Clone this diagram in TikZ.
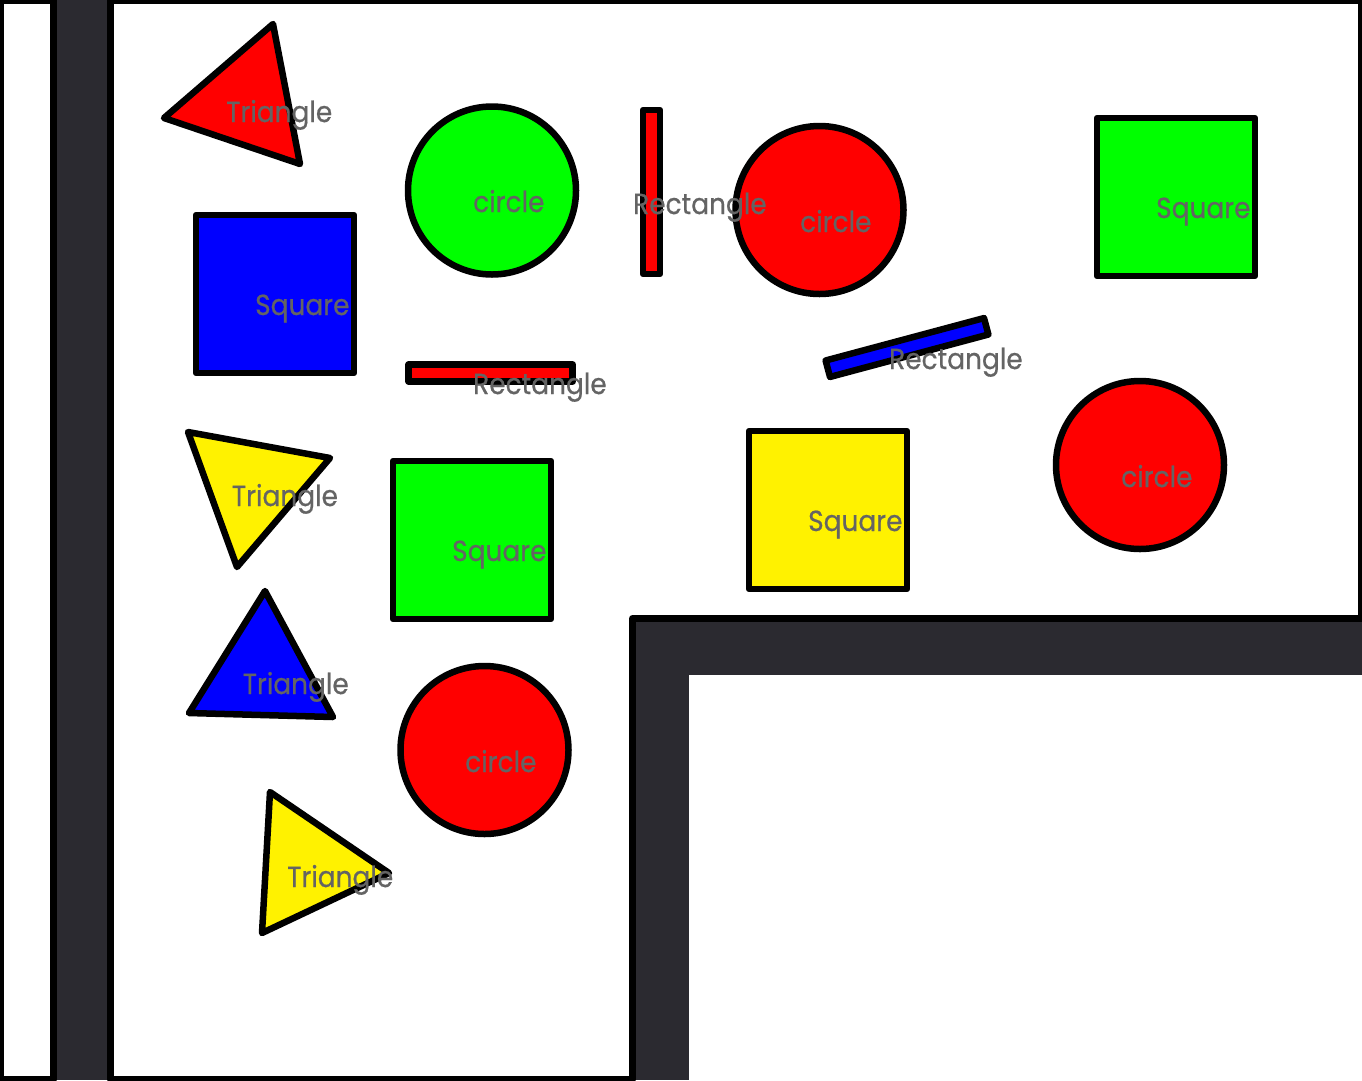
\documentclass[tikz,border=0pt]{standalone}
\usepackage{fontspec}
\newfontfamily\labfont[FakeStretch=0.91,FakeBold=0.6]{Poppins}
\definecolor{wallgray}{RGB}{43,42,48}
\definecolor{labgray}{RGB}{100,100,100}
\definecolor{shred}{RGB}{255,0,0}
\definecolor{shgreen}{RGB}{0,255,0}
\definecolor{shblue}{RGB}{0,0,255}
\definecolor{shyellow}{RGB}{255,242,0}
\begin{document}
\begin{tikzpicture}[x=1pt,y=-1pt,
  shp/.style={draw=black,line width=6.5pt,line join=round},
  sq/.style={shp,rectangle,inner sep=0pt,minimum width=158pt,minimum height=158pt},
  circ/.style={shp,circle,inner sep=0pt,minimum size=168pt},
  bar/.style={shp,rectangle,inner sep=0pt,minimum width=164pt,minimum height=17pt},
  lab/.style={anchor=base west,inner sep=0pt,text=labgray,font=\labfont\fontsize{29}{29}\selectfont},
  wall/.style={draw=black,line width=7pt,line join=round,fill=white}]
\useasboundingbox (0,0) rectangle (1362,1080);
% floor / walls
\fill[wallgray] (0,0) rectangle (1362,1080);
\fill[white] (689,675) rectangle (1362,1080);
\draw[wall] (0.5,0.5) rectangle (53.5,1079.5);
\draw[wall] (110.5,0.5) -- (1361.5,0.5) -- (1361.5,618.5) -- (632.5,618.5) -- (632.5,1079.5) -- (110.5,1079.5) -- cycle;
% triangles
\draw[shp,fill=shred] (164,118) -- (273,24) -- (300,164) -- cycle;
\draw[shp,fill=shyellow] (188,432) -- (330,458) -- (237,567) -- cycle;
\draw[shp,fill=shblue] (265,591) -- (333,717) -- (189,713) -- cycle;
\draw[shp,fill=shyellow] (270,792) -- (389,873) -- (262,933) -- cycle;
% circles
\node[circ,fill=shgreen] (c1) at (492,190.5) {};
\node[circ,fill=shred] (c2) at (819.5,210) {};
\node[circ,fill=shred] (c3) at (1140,465) {};
\node[circ,fill=shred] (c4) at (484.5,750) {};
% squares
\node[sq,fill=shblue] (s1) at (275,294) {};
\node[sq,fill=shgreen] (s2) at (1176,197) {};
\node[sq,fill=shgreen] (s3) at (472,540) {};
\node[sq,fill=shyellow] (s4) at (828,510) {};
% rectangles
\node[bar,fill=shred,rotate=90] (r1) at (651.5,192) {};
\node[bar,fill=shred] (r2) at (490.7,373) {};
\node[bar,fill=shblue,rotate=15] (r3) at (907,347.5) {};
% labels
\node[lab] (l1) at (226,122) {Triangle};
\node[lab] (l2) at (473,212) {circle};
\node[lab] (l3) at (633,214) {Rectangle};
\node[lab] (l4) at (800,232) {circle};
\node[lab] (l5) at (1156,218) {Square};
\node[lab] (l6) at (255,315) {Square};
\node[lab] (l7) at (473,394) {Rectangle};
\node[lab] (l8) at (889,369) {Rectangle};
\node[lab] (l9) at (231.7,506) {Triangle};
\node[lab] (l10) at (452,561) {Square};
\node[lab] (l11) at (808,531) {Square};
\node[lab] (l12) at (1121,487) {circle};
\node[lab] (l13) at (242.5,694) {Triangle};
\node[lab] (l14) at (465,772) {circle};
\node[lab] (l15) at (287,887) {Triangle};
\end{tikzpicture}
\end{document}
